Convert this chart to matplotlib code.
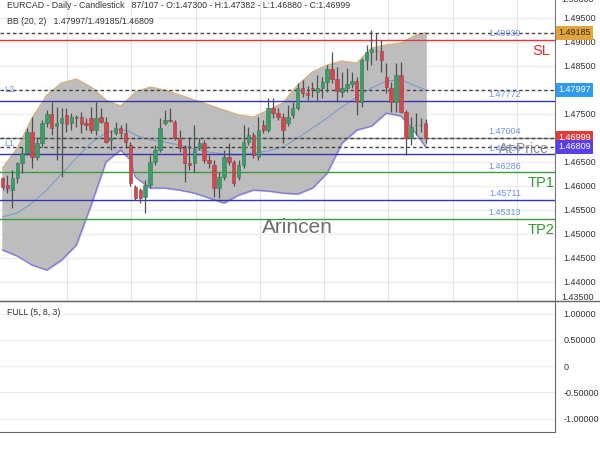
import numpy as np
import matplotlib.pyplot as plt
from matplotlib import transforms
from matplotlib.lines import Line2D

plt.rcParams['font.family'] = ['Liberation Sans', 'DejaVu Sans']

header = "EURCAD - Daily - Candlestick   87/107 - O:1.47300 - H:1.47382 - L:1.46880 - C:1.46999"
bb_header = "BB (20, 2)   1.47997/1.49185/1.46809"
osc_header = "FULL (5, 8, 3)"

# daily candles
opens = [1.4616, 1.4602, 1.4591, 1.4616, 1.4647, 1.4668, 1.4712, 1.4660, 1.4689, 1.4731,
         1.4749, 1.4724, 1.4731, 1.4747, 1.4731, 1.4741, 1.4743, 1.4731, 1.4741, 1.4716,
         1.4743, 1.4733, 1.4695, 1.4710, 1.4720, 1.4710, 1.4685, 1.4597, 1.4591, 1.4577,
         1.4602, 1.4649, 1.4674, 1.4731, 1.4737, 1.4733, 1.4699, 1.4679, 1.4647, 1.4647,
         1.4679, 1.4689, 1.4654, 1.4643, 1.4595, 1.4618, 1.4660, 1.4649, 1.4618, 1.4643,
         1.4691, 1.4706, 1.4660, 1.4726, 1.4716, 1.4762, 1.4751, 1.4743, 1.4731, 1.4747,
         1.4762, 1.4804, 1.4793, 1.4803, 1.4795, 1.4804, 1.4816, 1.4843, 1.4822, 1.4795,
         1.4804, 1.4812, 1.4818, 1.4774, 1.4862, 1.4879, 1.4881, 1.4881, 1.4827, 1.4804,
         1.4774, 1.4831, 1.4754, 1.4699, 1.4726, 1.4727, 1.47300]
highs = [1.4618, 1.4622, 1.4633, 1.4649, 1.4681, 1.4720, 1.4743, 1.4702, 1.4737, 1.4758,
         1.4774, 1.4764, 1.4762, 1.4762, 1.4752, 1.4747, 1.4754, 1.4741, 1.4764, 1.4774,
         1.4762, 1.4743, 1.4716, 1.4733, 1.4727, 1.4731, 1.4691, 1.4602, 1.4595, 1.4612,
         1.4664, 1.4685, 1.4741, 1.4758, 1.4762, 1.4737, 1.4716, 1.4685, 1.4702, 1.4726,
         1.4699, 1.4695, 1.4664, 1.4654, 1.4629, 1.4674, 1.4689, 1.4654, 1.4654, 1.4726,
         1.4722, 1.4712, 1.4743, 1.4737, 1.4783, 1.4783, 1.4762, 1.4751, 1.4768, 1.4774,
         1.4814, 1.4820, 1.4808, 1.4816, 1.4831, 1.4827, 1.4852, 1.4879, 1.4847, 1.4837,
         1.4845, 1.4837, 1.4827, 1.4866, 1.4893, 1.4924, 1.4918, 1.4904, 1.4856, 1.4816,
         1.4856, 1.4858, 1.4758, 1.4743, 1.4751, 1.4741, 1.47382]
lows = [1.4591, 1.4585, 1.4554, 1.4606, 1.4627, 1.4664, 1.4637, 1.4654, 1.4681, 1.4722,
        1.4706, 1.4654, 1.4618, 1.4712, 1.4716, 1.4722, 1.4710, 1.4716, 1.4710, 1.4706,
        1.4731, 1.4689, 1.4674, 1.4706, 1.4702, 1.4679, 1.4599, 1.4570, 1.4564, 1.4543,
        1.4595, 1.4643, 1.4670, 1.4727, 1.4733, 1.4695, 1.4670, 1.4608, 1.4633, 1.4629,
        1.4674, 1.4647, 1.4637, 1.4577, 1.4574, 1.4612, 1.4643, 1.4599, 1.4612, 1.4637,
        1.4685, 1.4658, 1.4654, 1.4710, 1.4712, 1.4741, 1.4737, 1.4689, 1.4724, 1.4741,
        1.4758, 1.4785, 1.4779, 1.4785, 1.4779, 1.4783, 1.4795, 1.4814, 1.4774, 1.4785,
        1.4795, 1.4804, 1.4747, 1.4764, 1.4841, 1.4852, 1.4862, 1.4837, 1.4793, 1.4754,
        1.4754, 1.4751, 1.4664, 1.4685, 1.4706, 1.4712, 1.46880]
closes = [1.4597, 1.4595, 1.4616, 1.4647, 1.4668, 1.4712, 1.4660, 1.4689, 1.4731, 1.4749,
          1.4720, 1.4731, 1.4741, 1.4729, 1.4743, 1.4743, 1.4729, 1.4727, 1.4716, 1.4741,
          1.4733, 1.4691, 1.4699, 1.4720, 1.4710, 1.4691, 1.4606, 1.4574, 1.4574, 1.4602,
          1.4649, 1.4674, 1.4720, 1.4737, 1.4735, 1.4699, 1.4679, 1.4647, 1.4643, 1.4674,
          1.4689, 1.4654, 1.4647, 1.4595, 1.4618, 1.4660, 1.4649, 1.4606, 1.4643, 1.4691,
          1.4706, 1.4664, 1.4716, 1.4716, 1.4762, 1.4751, 1.4743, 1.4716, 1.4743, 1.4762,
          1.4804, 1.4793, 1.4789, 1.4802, 1.4804, 1.4816, 1.4843, 1.4822, 1.4797, 1.4804,
          1.4812, 1.4818, 1.4774, 1.4862, 1.4879, 1.4885, 1.4880, 1.4862, 1.4806, 1.4774,
          1.4831, 1.4754, 1.4699, 1.4722, 1.4727, 1.4726, 1.46999]

# Bollinger band (20, 2), sampled along the candles
bb_idx = [0, 3, 6, 9, 12, 15, 18, 21, 24, 26, 27, 30, 33, 36, 39, 42, 45, 48, 51, 54,
          57, 60, 63, 66, 69, 72, 75, 78, 81, 84, 86]
bb_upper = [1.46369, 1.46785, 1.47410, 1.47890, 1.48140, 1.48223, 1.48056, 1.47785, 1.47660,
            1.47848, 1.47952, 1.48056, 1.47994, 1.47890, 1.47785, 1.47681, 1.47577, 1.47473,
            1.47431, 1.47577, 1.47723, 1.48098, 1.48369, 1.48515, 1.48598, 1.48556, 1.48869,
            1.48931, 1.48973, 1.49140, 1.49185]
bb_mid = [1.45348, 1.45431, 1.45640, 1.45910, 1.46244, 1.46577, 1.46890, 1.47098, 1.47181,
          1.47119, 1.47056, 1.46952, 1.46910, 1.46848, 1.46765, 1.46702, 1.46660, 1.46640,
          1.46681, 1.46723, 1.46806, 1.46994, 1.47202, 1.47410, 1.47640, 1.47848, 1.48035,
          1.48181, 1.48202, 1.48077, 1.47997]
bb_lower = [1.44660, 1.44535, 1.44348, 1.44244, 1.44452, 1.44765, 1.45598, 1.46494, 1.46744,
            1.46535, 1.46181, 1.45952, 1.45952, 1.45910, 1.45848, 1.45744, 1.45640, 1.45806,
            1.45910, 1.45890, 1.45848, 1.45827, 1.45952, 1.46265, 1.46890, 1.47160, 1.47244,
            1.47515, 1.47452, 1.47098, 1.46809]

# trade levels
sl_level = 1.49039
l2_level = 1.47772
at_level = 1.47004
l1_level = 1.46660
tp1_level = 1.46286
l0_level = 1.45711
tp2_level = 1.45313

# dashed marker lines and their right-hand tags
tag_values = [1.49185, 1.47997, 1.46999, 1.46809]
tag_colors = ['#e3a43a', '#2f9bf0', '#e23b3b', '#5b3fe6']
tag_text_colors = ['#333333', 'white', 'white', 'white']

price_ticks = [1.44, 1.445, 1.45, 1.455, 1.46, 1.465, 1.475, 1.485, 1.49, 1.495]
grid_levels = [1.44, 1.445, 1.45, 1.455, 1.46, 1.465, 1.47, 1.475, 1.48, 1.485, 1.49, 1.495]
osc_ticks = [1.0, 0.5, 0.0, -0.5, -1.0]
osc_labels = ['1.00000', '0.50000', '0', '-0.50000', '-1.00000']

fig = plt.figure(figsize=(6, 4.5), dpi=100)
ax = fig.add_axes([0, 1 - 300.7 / 450, 555 / 600, 300.7 / 450])
ax2 = fig.add_axes([0, 1 - 431.7 / 450, 555 / 600, 131 / 450])

x = np.arange(len(opens))
o = np.array(opens)
c = np.array(closes)
up = c >= o

ax.set_xlim(-0.51, 112.3)
ax.set_ylim(1.43604, 1.49869)

# grid
for gx in np.arange(13.1, 112, 13.07):
    ax.axvline(gx, color='#e4e4e4', lw=0.8, zorder=0)
for gy in grid_levels:
    ax.axhline(gy, color='#ececec', lw=0.8, zorder=0)

# bands
ax.fill_between(bb_idx, bb_lower, bb_upper, color='#bdbdbd', zorder=1)
ax.plot(bb_idx, bb_upper, color='#d8b27a', lw=0.9, zorder=2)
ax.plot(bb_idx, bb_lower, color='#7e78e2', lw=0.9, zorder=2)
ax.plot(bb_idx, bb_mid, color='#7a9ccc', lw=0.8, zorder=2)

# level lines
ax.axhline(sl_level, color='#d93a3a', lw=1.0, zorder=3)
ax.axhline(at_level, color='#999999', lw=1.0, zorder=3)
for lv in [l2_level, l1_level, l0_level]:
    ax.axhline(lv, color='#3434b0', lw=1.0, zorder=3)
for lv in [tp1_level, tp2_level]:
    ax.axhline(lv, color='#3d9a3d', lw=1.0, zorder=3)
for tv in tag_values:
    ax.axhline(tv, color='#444444', lw=1.0, ls=(0, (2.5, 2)), zorder=3)

# candles
ax.vlines(x, lows, highs, color='#505050', lw=0.9, zorder=4)
bottoms = np.minimum(o, c)
heights = np.maximum(np.abs(c - o), 0.00005)
ax.bar(x[up], heights[up], bottom=bottoms[up], width=0.7, color='#3f9c68',
       edgecolor='#2f7f52', lw=0.4, zorder=5)
ax.bar(x[~up], heights[~up], bottom=bottoms[~up], width=0.7, color='#cc4a4f',
       edgecolor='#a83a3f', lw=0.4, zorder=5)

# level texts
lab_kw = dict(color='#6f8fe0', fontsize=6.5, ha='center', va='bottom', zorder=6)
for lv in [sl_level, l2_level, at_level, l1_level, tp1_level, l0_level, tp2_level]:
    ax.text(102.1, lv + 0.0003, '%.5f' % lv, **lab_kw)
ax.text(109.5, sl_level - 0.0023, 'SL', color='#e03030', fontsize=10.5, ha='center', va='center')
ax.text(109.5, tp1_level - 0.0023, 'TP1', color='#2e9a2e', fontsize=10.5, ha='center', va='center')
ax.text(109.5, tp2_level - 0.0023, 'TP2', color='#2e9a2e', fontsize=10.5, ha='center', va='center')
ax.text(105.8, at_level - 0.0023, 'At Price', color='#8a8a8a', fontsize=10, ha='center',
        va='center', zorder=6)
for name, lv in [('L2', l2_level), ('L1', l1_level), ('L0', l0_level)]:
    ax.text(0.4, lv + 0.0013, name, color='#6f8fe0', fontsize=6.5, ha='left', va='bottom')

ax.text(60, 1.4512, 'Arincen', color='#6e6e6e', fontsize=15, ha='center', va='center', zorder=6)

ax.text(0.012, 0.982, header, transform=ax.transAxes, fontsize=6.3, color='#333333',
        ha='left', va='center')
ax.text(0.012, 0.927, bb_header, transform=ax.transAxes, fontsize=6.3, color='#333333',
        ha='left', va='center')

# axes styling
ax.yaxis.tick_right()
ax.set_yticks(price_ticks)
ax.set_yticklabels(['%.5f' % t for t in price_ticks])
ax.tick_params(axis='y', length=0, labelsize=6.5, labelcolor='#333333', pad=6)
ax.set_xticks([])
for s in ['top', 'left', 'bottom']:
    ax.spines[s].set_visible(False)
ax.spines['right'].set_color('#777777')
ax.text(1.012, 0.012, '1.43500', transform=ax.transAxes, fontsize=6.5, color='#333333',
        ha='left', va='center')
ax.text(1.012, 1.0, '1.50000', transform=ax.transAxes, fontsize=6.5, color='#333333',
        ha='left', va='center')

trans = transforms.blended_transform_factory(ax.transAxes, ax.transData)
for tv, tc, ttc in zip(tag_values, tag_colors, tag_text_colors):
    ax.text(1.006, tv, '%.5f' % tv, transform=trans, fontsize=6.5, color=ttc, ha='left',
            va='center', zorder=7, clip_on=False,
            bbox=dict(boxstyle='square,pad=0.25', fc=tc, ec='none'))

# oscillator panel
ax2.set_xlim(-0.51, 112.3)
ax2.set_ylim(-1.25, 1.25)
for gy in osc_ticks:
    ax2.axhline(gy, color='#ececec', lw=0.8, zorder=0)
ax2.yaxis.tick_right()
ax2.set_yticks(osc_ticks)
ax2.set_yticklabels(osc_labels)
ax2.tick_params(axis='y', length=0, labelsize=6.5, labelcolor='#333333', pad=6)
ax2.set_xticks([])
ax2.spines['left'].set_visible(False)
for s in ['top', 'right', 'bottom']:
    ax2.spines[s].set_color('#666666')
ax2.text(0.012, 0.91, osc_header, transform=ax2.transAxes, fontsize=6.3, color='#333333',
         ha='left', va='center')
fig.add_artist(Line2D([0, 1], [1 - 300.7 / 450] * 2, transform=fig.transFigure,
                      color='#666666', lw=1.0))

fig.savefig('out.png', dpi=100)
